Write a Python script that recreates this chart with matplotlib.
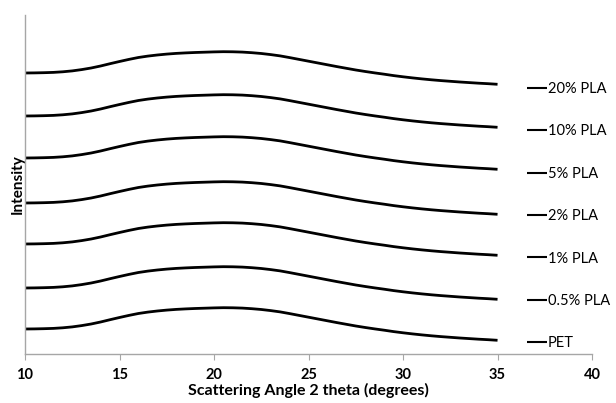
import numpy as np
import matplotlib
matplotlib.use("Agg")
import matplotlib.pyplot as plt

plt.rcParams['font.family'] = ['Lato', 'DejaVu Sans']

# scattering angle 2 theta (degrees), 0.5 degree steps
angle = np.arange(10, 35.01, 0.5)

# stacked XRD intensity profiles (arbitrary units, offset for display)
pet = [25, 25.1, 25.3, 25.6, 26.2, 27.1, 28.4, 30.0, 32.0, 34.3, 36.5, 38.6, 40.5, 41.9, 43.0, 43.9, 44.6,
       45.1, 45.5, 45.8, 46.1, 46.3, 46.2, 45.9, 45.3, 44.5, 43.4, 42.1, 40.4, 38.6, 36.8, 35.0, 33.2,
       31.4, 29.7, 28.0, 26.5, 25.1, 23.8, 22.4, 21.2, 20.1, 19.1, 18.2, 17.4, 16.7, 16.0, 15.4, 14.8,
       14.3, 13.7]
pla_05 = [66, 66.1, 66.3, 66.6, 67.2, 68.1, 69.4, 71.0, 73.0, 75.3, 77.5, 79.6, 81.5, 82.9, 84.0, 84.9,
          85.6, 86.1, 86.5, 86.8, 87.1, 87.3, 87.2, 86.9, 86.3, 85.5, 84.4, 83.1, 81.4, 79.6, 77.8, 76.0,
          74.2, 72.4, 70.7, 69.0, 67.5, 66.1, 64.8, 63.4, 62.2, 61.1, 60.1, 59.2, 58.4, 57.7, 57.0, 56.4,
          55.8, 55.3, 54.7]
pla_1 = [110, 110.1, 110.3, 110.6, 111.2, 112.1, 113.4, 115.0, 117.0, 119.3, 121.5, 123.6, 125.5, 126.9,
         128.0, 128.9, 129.6, 130.1, 130.5, 130.8, 131.1, 131.3, 131.2, 130.9, 130.3, 129.5, 128.4, 127.1,
         125.4, 123.6, 121.8, 120.0, 118.2, 116.4, 114.7, 113.0, 111.5, 110.1, 108.8, 107.4, 106.2, 105.1,
         104.1, 103.2, 102.4, 101.7, 101.0, 100.4, 99.8, 99.3, 98.7]
pla_2 = [151, 151.1, 151.3, 151.6, 152.2, 153.1, 154.4, 156.0, 158.0, 160.3, 162.5, 164.6, 166.5, 167.9,
         169.0, 169.9, 170.6, 171.1, 171.5, 171.8, 172.1, 172.3, 172.2, 171.9, 171.3, 170.5, 169.4, 168.1,
         166.4, 164.6, 162.8, 161.0, 159.2, 157.4, 155.7, 154.0, 152.5, 151.1, 149.8, 148.4, 147.2, 146.1,
         145.1, 144.2, 143.4, 142.7, 142.0, 141.4, 140.8, 140.3, 139.7]
pla_5 = [196, 196.1, 196.3, 196.6, 197.2, 198.1, 199.4, 201.0, 203.0, 205.3, 207.5, 209.6, 211.5, 212.9,
         214.0, 214.9, 215.6, 216.1, 216.5, 216.8, 217.1, 217.3, 217.2, 216.9, 216.3, 215.5, 214.4, 213.1,
         211.4, 209.6, 207.8, 206.0, 204.2, 202.4, 200.7, 199.0, 197.5, 196.1, 194.8, 193.4, 192.2, 191.1,
         190.1, 189.2, 188.4, 187.7, 187.0, 186.4, 185.8, 185.3, 184.7]
pla_10 = [238, 238.1, 238.3, 238.6, 239.2, 240.1, 241.4, 243.0, 245.0, 247.3, 249.5, 251.6, 253.5, 254.9,
          256.0, 256.9, 257.6, 258.1, 258.5, 258.8, 259.1, 259.3, 259.2, 258.9, 258.3, 257.5, 256.4, 255.1,
          253.4, 251.6, 249.8, 248.0, 246.2, 244.4, 242.7, 241.0, 239.5, 238.1, 236.8, 235.4, 234.2, 233.1,
          232.1, 231.2, 230.4, 229.7, 229.0, 228.4, 227.8, 227.3, 226.7]
pla_20 = [281, 281.1, 281.3, 281.6, 282.2, 283.1, 284.4, 286.0, 288.0, 290.3, 292.5, 294.6, 296.5, 297.9,
          299.0, 299.9, 300.6, 301.1, 301.5, 301.8, 302.1, 302.3, 302.2, 301.9, 301.3, 300.5, 299.4, 298.1,
          296.4, 294.6, 292.8, 291.0, 289.2, 287.4, 285.7, 284.0, 282.5, 281.1, 279.8, 278.4, 277.2, 276.1,
          275.1, 274.2, 273.4, 272.7, 272.0, 271.4, 270.8, 270.3, 269.7]

series = [pla_20, pla_10, pla_5, pla_2, pla_1, pla_05, pet]
labels = ["20% PLA", "10% PLA", "5% PLA", "2% PLA", "1% PLA", "0.5% PLA", "PET"]

fig = plt.figure(figsize=(6.16, 4.03), dpi=100)
ax = fig.add_axes([0.0406, 0.1216, 0.9205, 0.8412])

for ys, lab in zip(series, labels):
    ax.plot(angle, ys, color="black", lw=2.0, label=lab, solid_capstyle="butt")

ax.set_xlim(10, 40)
ax.set_ylim(0, 339)
ax.set_xticks(np.arange(10, 41, 5))
ax.set_yticks([])

for side in ["top", "right"]:
    ax.spines[side].set_visible(False)
for side in ["left", "bottom"]:
    ax.spines[side].set_color("#a6a6a6")
    ax.spines[side].set_linewidth(1.0)
ax.tick_params(axis="x", direction="out", length=4, color="#a6a6a6",
               labelsize=10.5, pad=6)
for t in ax.get_xticklabels():
    t.set_fontweight("bold")

ax.set_xlabel("Scattering Angle 2 theta (degrees)", fontsize=11.5, fontweight="bold", labelpad=1)
ax.set_ylabel("Intensity", fontsize=11, fontweight="bold", labelpad=0)

leg = ax.legend(loc="upper left", bbox_to_anchor=(0.886, 0.803), frameon=False,
                fontsize=10.5, handlelength=1.35, handletextpad=0.05, labelspacing=1.95,
                borderpad=0, borderaxespad=0)
for h in leg.get_lines():
    h.set_linewidth(1.5)

fig.savefig("out.png", dpi=100)
